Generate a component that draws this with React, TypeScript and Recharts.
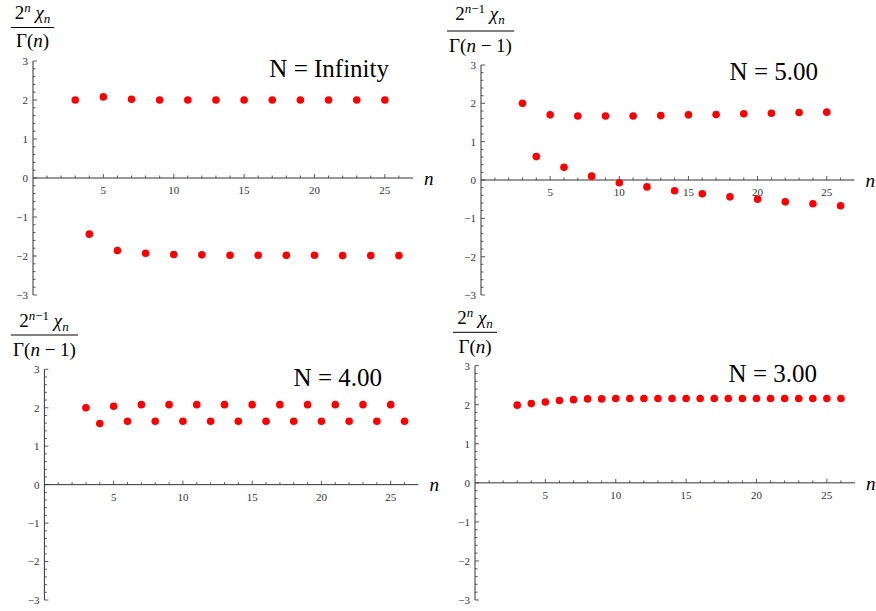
import React from 'react';
import { ScatterChart, Scatter, XAxis, YAxis, ReferenceLine } from 'recharts';

// ---------- data ----------
const N_VALUES = [3, 4, 5, 6, 7, 8, 9, 10, 11, 12, 13, 14, 15, 16, 17, 18, 19, 20, 21, 22, 23, 24, 25, 26];

// N = Infinity : 2^n chi_n / Gamma(n)
const INF_VALUES = [2.0, -1.44, 2.08, -1.86, 2.02, -1.93, 2.0, -1.96, 2.0, -1.97, 2.0, -1.98, 2.0, -1.98, 2.0, -1.98, 2.0, -1.98, 2.0, -1.99, 2.0, -1.99, 2.0, -1.99];
// N = 5.00 : 2^(n-1) chi_n / Gamma(n-1)
const N5_VALUES = [2.0, 0.61, 1.7, 0.33, 1.67, 0.1, 1.67, -0.07, 1.67, -0.18, 1.68, -0.28, 1.7, -0.36, 1.71, -0.44, 1.73, -0.5, 1.74, -0.57, 1.76, -0.62, 1.77, -0.67];
// N = 4.00 : 2^(n-1) chi_n / Gamma(n-1)
const N4_VALUES = [2.0, 1.59, 2.04, 1.65, 2.08, 1.65, 2.08, 1.65, 2.08, 1.65, 2.08, 1.65, 2.08, 1.65, 2.08, 1.65, 2.08, 1.65, 2.08, 1.65, 2.08, 1.65, 2.08, 1.65];
// N = 3.00 : 2^n chi_n / Gamma(n)
const N3_VALUES = [1.99, 2.03, 2.07, 2.11, 2.13, 2.15, 2.15, 2.16, 2.16, 2.16, 2.16, 2.16, 2.16, 2.16, 2.16, 2.16, 2.16, 2.16, 2.16, 2.16, 2.16, 2.16, 2.16, 2.16];

const Y_MAJOR = [-3, -2, -1, 0, 1, 2, 3];
const X_MAJOR = [5, 10, 15, 20, 25];
const X_TICKS = [1, 2, 3, 4, 5, 6, 7, 8, 9, 10, 11, 12, 13, 14, 15, 16, 17, 18, 19, 20, 21, 22, 23, 24, 25, 26];
const X_DOMAIN = [0, 27];
const Y_DOMAIN = [-3, 3];

// minor y ticks every 0.2 between the major ticks
const Y_TICKS: number[] = [];
Y_MAJOR.forEach((m, i) => {
  Y_TICKS.push(m);
  if (i < Y_MAJOR.length - 1) {
    for (let k = 1; k < 5; k++) Y_TICKS.push(Math.round((m + k * 0.2) * 10) / 10);
  }
});

const SERIF = '"Liberation Serif", "Times New Roman", serif';
const AXIS = '#333';
const TICK_MARGIN = 5;

const fmt = (v: number) => (v < 0 ? '\u2212' + Math.abs(v) : String(v));

const YTick = (props: any) => {
  const { x, y, payload } = props;
  const v = payload.value;
  const major = Math.abs(v - Math.round(v)) < 1e-6;
  const ax = x + TICK_MARGIN;
  return (
    <g>
      <line x1={ax} x2={ax + (major ? 4 : 2.5)} y1={y} y2={y} stroke={AXIS} strokeWidth={0.8} />
      {major && (
        <text x={x} y={y} dy="0.35em" textAnchor="end" fontSize={11} fill="#333" fontFamily={SERIF}>
          {fmt(v)}
        </text>
      )}
    </g>
  );
};

const XTickShape = (props: any) => {
  const { cx, cy, payload } = props;
  const major = X_MAJOR.includes(payload.n);
  return (
    <g>
      <line x1={cx} x2={cx} y1={cy} y2={cy - (major ? 4 : 2.5)} stroke={AXIS} strokeWidth={0.8} />
      {major && (
        <text x={cx} y={cy + 16} textAnchor="middle" fontSize={11} fill="#333" fontFamily={SERIF}>
          {payload.n}
        </text>
      )}
    </g>
  );
};

const Dot = (props: any) => <circle cx={props.cx} cy={props.cy} r={3.8} fill="#ff0000" />;

const xTickData = X_TICKS.map((n) => ({ n, v: 0 }));

type PanelCfg = {
  left: number;
  top: number;
  width: number;
  height: number;
  margin: { top: number; right: number; bottom: number; left: number };
  shifted: boolean; // 2^(n-1)/Gamma(n-1) label
  title: string;
  values: number[];
  numX: number;
  numY: number;
  lineY: number;
  lineX1: number;
  lineX2: number;
  denY: number;
  titleX: number;
  titleY: number;
};

const PANELS: PanelCfg[] = [
  {
    left: 0, top: 0, width: 440, height: 305,
    margin: { top: 61, right: 27, bottom: 10, left: 13 },
    shifted: false, title: 'N = Infinity', values: INF_VALUES,
    numX: 32.5, numY: 19, lineY: 27.5, lineX1: 11, lineX2: 54, denY: 47,
    titleX: 389, titleY: 77,
  },
  {
    left: 440, top: 0, width: 436, height: 305,
    margin: { top: 65, right: 21.6, bottom: 10, left: 21 },
    shifted: true, title: 'N = 5.00', values: N5_VALUES,
    numX: 40, numY: 20, lineY: 31, lineX1: 7, lineX2: 74, denY: 51.5,
    titleX: 378, titleY: 80,
  },
  {
    left: 0, top: 305, width: 440, height: 306,
    margin: { top: 64.3, right: 21.6, bottom: 11, left: 24.4 },
    shifted: true, title: 'N = 4.00', values: N4_VALUES,
    numX: 44, numY: 21.5, lineY: 30, lineX1: 11, lineX2: 78, denY: 51,
    titleX: 382, titleY: 81,
  },
  {
    left: 440, top: 305, width: 436, height: 306,
    margin: { top: 60.7, right: 21, bottom: 11, left: 15 },
    shifted: false, title: 'N = 3.00', values: N3_VALUES,
    numX: 35, numY: 19, lineY: 27.3, lineX1: 13, lineX2: 57, denY: 48.3,
    titleX: 377, titleY: 76.7,
  },
];

const Numerator = ({ shifted }: { shifted: boolean }) => (
  <>
    2
    <tspan fontSize={13} dy={-7}>
      <tspan fontStyle="italic">n</tspan>
      {shifted ? '\u22121' : ''}
    </tspan>
    <tspan dy={7}>{'\u00a0'}</tspan>
    <tspan fontStyle="italic">{'\u03c7'}</tspan>
    <tspan fontStyle="italic" fontSize={13} dy={4}>n</tspan>
  </>
);

const Panel = ({ cfg }: { cfg: PanelCfg }) => {
  const data = N_VALUES.map((n, i) => ({ n, v: cfg.values[i] }));
  return (
    <div style={{ position: 'absolute', left: cfg.left, top: cfg.top, width: cfg.width, height: cfg.height }}>
      <ScatterChart width={cfg.width} height={cfg.height} margin={cfg.margin}>
        <XAxis type="number" dataKey="n" domain={X_DOMAIN} hide allowDataOverflow />
        <YAxis
          type="number"
          dataKey="v"
          domain={Y_DOMAIN}
          ticks={Y_TICKS}
          interval={0}
          width={20}
          tickSize={0}
          tickMargin={TICK_MARGIN}
          tickLine={false}
          axisLine={{ stroke: AXIS, strokeWidth: 1 }}
          tick={<YTick />}
          allowDataOverflow
        />
        <ReferenceLine
          y={0}
          stroke={AXIS}
          strokeWidth={1}
          label={{
            value: 'n',
            position: 'right',
            offset: 11,
            fontStyle: 'italic',
            fontSize: 19,
            fontFamily: SERIF,
            fill: '#000',
          }}
        />
        <Scatter data={xTickData} shape={<XTickShape />} isAnimationActive={false} />
        <Scatter data={data} shape={<Dot />} isAnimationActive={false} />
      </ScatterChart>
      <svg
        width={cfg.width}
        height={cfg.height}
        style={{ position: 'absolute', left: 0, top: 0, pointerEvents: 'none' }}
      >
        <text x={cfg.numX} y={cfg.numY} textAnchor="middle" fontSize={19} fontFamily={SERIF} fill="#000">
          <Numerator shifted={cfg.shifted} />
        </text>
        <line x1={cfg.lineX1} x2={cfg.lineX2} y1={cfg.lineY} y2={cfg.lineY} stroke="#000" strokeWidth={1} />
        <text x={(cfg.lineX1 + cfg.lineX2) / 2} y={cfg.denY} textAnchor="middle" fontSize={19} fontFamily={SERIF} fill="#000">
          {'\u0393('}
          <tspan fontStyle="italic">n</tspan>
          {cfg.shifted ? ' \u2212 1)' : ')'}
        </text>
        <text x={cfg.titleX} y={cfg.titleY} textAnchor="end" fontSize={25} fontFamily={SERIF} fill="#000">
          {cfg.title}
        </text>
      </svg>
    </div>
  );
};

export default function App() {
  return (
    <div style={{ position: 'absolute', left: 0, top: 0, width: 876, height: 611, background: '#fff' }}>
      {PANELS.map((p, i) => (
        <Panel key={i} cfg={p} />
      ))}
    </div>
  );
}
